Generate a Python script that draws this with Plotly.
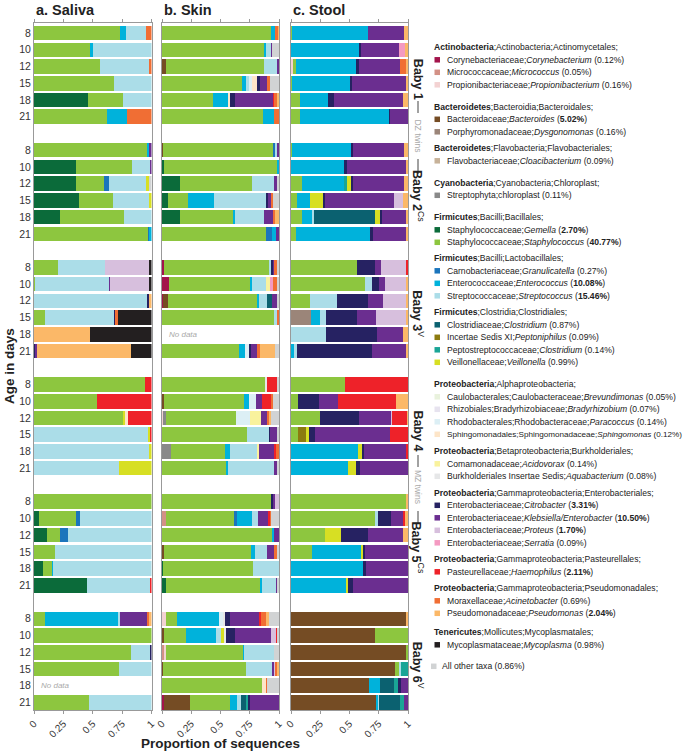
import plotly.graph_objects as go

# ---------------- data ----------------
ages = ["8", "10", "12", "15", "18", "21"]
babies = ["Baby 1", "Baby 2", "Baby 3", "Baby 4", "Baby 5", "Baby 6"]
baby_sup = ["", "Cs", "V", "", "Cs", "V"]
panel_titles = ["a. Saliva", "b. Skin", "c. Stool"]

taxa = ["Cory", "Micro", "Propi", "Bact", "Dysg", "Cloac", "Chlor", "Gem", "Staph",
        "Gran", "Ent", "Strep", "Clos", "Pept", "PeptC", "Veil", "Brev", "Brady",
        "Para", "Sphing", "Acid", "Aqua", "Citro", "Kleb", "Prot", "Serr", "Haem",
        "Acin", "Pseu", "Myco", "Other"]
taxa_colors = ["#A3144B", "#D39186", "#F3D2D2", "#754C24", "#9B8579", "#C7B299", "#898989",
               "#0B6B3A", "#8DC63F", "#1B75BC", "#00B2DB", "#ABDDE8", "#0B6170", "#8C7B10",
               "#1AA596", "#D7DF23", "#E9F2DD", "#E7E3EF", "#DCEFF5", "#FDE5C8", "#F9F29D",
               "#E6E7E8", "#262262", "#6B2E90", "#D7BFDD", "#F49AC1", "#EE2229", "#F06E34",
               "#FBB868", "#231F20", "#D1D3D4"]

legend_headers = [
    "<b>Actinobacteria</b>;Actinobacteria;Actinomycetales;",
    "<b>Bacteroidetes</b>;Bacteroidia;Bacteroidales;",
    "<b>Bacteroidetes</b>;Flavobacteria;Flavobacteriales;",
    "<b>Cyanobacteria</b>;Cyanobacteria;Chloroplast;",
    "<b>Firmicutes</b>;Bacilli;Bacillales;",
    "<b>Firmicutes</b>;Bacilli;Lactobacillales;",
    "<b>Firmicutes</b>;Clostridia;Clostridiales;",
    "<b>Proteobacteria</b>;Alphaproteobacteria;",
    "<b>Proteobacteria</b>;Betaproteobacteria;Burkholderiales;",
    "<b>Proteobacteria</b>;Gammaproteobacteria;Enterobacteriales;",
    "<b>Proteobacteria</b>;Gammaproteobacteria;Pasteurellales;",
    "<b>Proteobacteria</b>;Gammaproteobacteria;Pseudomonadales;",
    "<b>Tenericutes</b>;Mollicutes;Mycoplasmatales;",
]
legend_group_sizes = [3, 2, 1, 1, 2, 3, 4, 4, 2, 4, 1, 2, 1]
taxa_labels = [
    "Corynebacteriaceae;<i>Corynebacterium</i> (0.12%)",
    "Micrococcaceae;<i>Micrococcus</i> (0.05%)",
    "Propionibacteriaceae;<i>Propionibacterium</i> (0.16%)",
    "Bacteroidaceae;<i>Bacteroides</i> (<b>5.02%</b>)",
    "Porphyromonadaceae;<i>Dysgonomonas</i> (0.16%)",
    "Flavobacteriaceae;<i>Cloacibacterium</i> (0.09%)",
    "Streptophyta;chloroplast (0.11%)",
    "Staphylococcaceae;<i>Gemella</i> (<b>2.70%</b>)",
    "Staphylococcaceae;<i>Staphylococcus</i> (<b>40.77%</b>)",
    "Carnobacteriaceae;<i>Granulicatella</i> (0.27%)",
    "Enterococcaceae;<i>Enterococcus</i> (<b>10.08%</b>)",
    "Streptococcaceae;<i>Streptococcus</i> (<b>15.46%</b>)",
    "Clostridiaceae;<i>Clostridium</i> (0.87%)",
    "Incertae Sedis XI;<i>Peptoniphilus</i> (0.09%)",
    "Peptostreptococcaceae;<i>Clostridium</i> (0.14%)",
    "Veillonellaceae;<i>Veillonella</i> (0.99%)",
    "Caulobacterales;Caulobacteraceae;<i>Brevundimonas</i> (0.05%)",
    "Rhizobiales;Bradyrhizobiaceae;<i>Bradyrhizobium</i> (0.07%)",
    "Rhodobacterales;Rhodobacteraceae;<i>Paracoccus</i> (0.14%)",
    "Sphingomonadales;Sphingomonadaceae;<i>Sphingomonas</i> (0.12%)",
    "Comamonadaceae;<i>Acidovorax</i> (0.14%)",
    "Burkholderiales Insertae Sedis;<i>Aquabacterium</i> (0.08%)",
    "Enterobacteriaceae;<i>Citrobacter</i> (<b>3.31%</b>)",
    "Enterobacteriaceae;<i>Klebsiella/Enterobacter</i> (<b>10.50%</b>)",
    "Enterobacteriaceae;<i>Proteus</i> (<b>1.70%</b>)",
    "Enterobacteriaceae;<i>Serratia</i> (0.09%)",
    "Pasteurellaceae;<i>Haemophilus</i> (<b>2.11%</b>)",
    "Moraxellaceae;<i>Acinetobacter</i> (0.69%)",
    "Pseudomonadaceae;<i>Pseudomonas</i> (<b>2.04%</b>)",
    "Mycoplasmataceae;<i>Mycoplasma</i> (0.98%)",
    "All other taxa (0.86%)",
]

# one dict per sample (baby x age), None = no data
saliva = [
    # Baby 1
    {"Staph": .73, "Ent": .05, "Strep": .17, "Acin": .05},
    {"Staph": .485, "Ent": .015, "Strep": .50},
    {"Staph": .56, "Strep": .415, "Acin": .025},
    {"Staph": .68, "Strep": .32},
    {"Gem": .46, "Staph": .30, "Strep": .24},
    {"Staph": .625, "Ent": .17, "Acin": .205},
    # Baby 2
    {"Staph": .96, "Ent": .02, "Kleb": .02},
    {"Gem": .36, "Staph": .47, "Strep": .16, "Kleb": .01},
    {"Gem": .357, "Staph": .24, "Gran": .037, "Strep": .32, "Veil": .025, "Other": .02},
    {"Gem": .385, "Staph": .286, "Strep": .30, "Veil": .025},
    {"Gem": .22, "Staph": .54, "Strep": .235},
    {"Staph": .97, "Gran": .017, "Ent": .013},
    # Baby 3
    {"Staph": .20, "Strep": .40, "Prot": .37, "Myco": .025},
    {"Staph": .01, "Strep": .63, "Kleb": .006, "Prot": .33, "Myco": .02},
    {"Strep": .97, "Citro": .01, "Pseu": .02},
    {"Staph": .09, "Strep": .59, "Citro": .01, "Acin": .02, "Myco": .285},
    {"Pseu": .475, "Myco": .52},
    {"Citro": .01, "Kleb": .015, "Pseu": .785, "Myco": .175},
    # Baby 4
    {"Staph": .945, "Haem": .055},
    {"Staph": .54, "Haem": .46},
    {"Staph": .75, "Veil": .02, "Sphing": .02, "Haem": .20},
    {"Strep": .965, "Veil": .02, "Haem": .01},
    {"Strep": .977, "Veil": .023},
    {"Strep": .725, "Veil": .275},
    # Baby 5
    {"Staph": 1.0},
    {"Gem": .04, "Staph": .32, "Gran": .03, "Strep": .61},
    {"Gem": .11, "Staph": .11, "Gran": .07, "Strep": .71},
    {"Staph": .18, "Strep": .82},
    {"Gem": .08, "Staph": .075, "Ent": .01, "Strep": .835},
    {"Gem": .445, "Strep": .54, "Haem": .01},
    # Baby 6
    {"Staph": .09, "Ent": .63, "Strep": .015, "Kleb": .24, "Acin": .01, "Pseu": .02},
    {"Staph": 1.0},
    {"Staph": .825, "Strep": .17, "Citro": .005},
    {"Staph": .72, "Strep": .28},
    None,
    {"Staph": .465, "Strep": .535},
]

skin = [
    # Baby 1
    {"Staph": .935, "Ent": .03, "Pseu": .005, "Acin": .03},
    {"Staph": .87, "Ent": .023, "Strep": .04, "Kleb": .01, "Other": .057},
    {"Bact": .035, "Staph": .83, "Strep": .12, "Kleb": .01},
    {"Staph": .68, "Ent": .03, "Strep": .03, "Para": .02, "Sphing": .05, "Citro": .015,
     "Kleb": .06, "Acin": .03, "Other": .075},
    {"Staph": .43, "Ent": .13, "Sphing": .02, "Citro": .04, "Kleb": .33, "Haem": .01,
     "Acin": .015, "Pseu": .02},
    {"Staph": .855, "Ent": .10, "Acin": .04},
    # Baby 2
    {"Bact": .01, "Staph": .94, "Gran": .02, "Strep": .015, "Kleb": .015},
    {"Gem": .02, "Staph": .955, "Ent": .02},
    {"Gem": .15, "Staph": .615, "Strep": .19, "Kleb": .03, "Other": .01},
    {"Gem": .05, "Staph": .175, "Ent": .215, "Strep": .45, "Citro": .017, "Kleb": .02,
     "Acin": .02, "Other": .05},
    {"Gem": .15, "Staph": .455, "Ent": .02, "Strep": .24, "Kleb": .08, "Acin": .02, "Pseu": .03},
    {"Staph": .895, "Gran": .05, "Ent": .03, "Kleb": .03},
    # Baby 3
    {"Cory": .015, "Staph": .905, "Strep": .015, "Citro": .012, "Kleb": .015, "Acin": .015,
     "Other": .02},
    {"Cory": .06, "Staph": .695, "Ent": .01, "Strep": .12, "Acid": .04, "Serr": .015,
     "Acin": .035, "Other": .02},
    {"Cory": .01, "Bact": .04, "Staph": .77, "Ent": .01, "Strep": .07, "Clos": .04,
     "Kleb": .04, "Other": .02},
    {"Staph": .955, "Strep": .03, "Acin": .015},
    None,
    {"Staph": .655, "Ent": .05, "Para": .035, "Citro": .02, "Kleb": .045, "Acin": .025,
     "Pseu": .13, "Other": .035},
    # Baby 4
    {"Staph": .88, "Aqua": .01, "Haem": .09, "Other": .015},
    {"Bact": .02, "Staph": .68, "Ent": .04, "Para": .06, "Kleb": .055, "Haem": .08,
     "Acin": .015, "Other": .05},
    {"Propi": .015, "Staph": .6, "Chlor": .015, "Para": .12, "Acid": .1, "Kleb": .045,
     "Acin": .02, "Pseu": .02, "Other": .065},
    {"Staph": .725, "Strep": .19, "Citro": .01, "Kleb": .055, "Other": .02},
    {"Chlor": .075, "Staph": .46, "Ent": .04, "Strep": .235, "Acid": .015, "Kleb": .125,
     "Haem": .02, "Acin": .025},
    {"Staph": .55, "Ent": .01, "Strep": .40, "Kleb": .03, "Other": .01},
    # Baby 5
    {"Staph": .937, "Citro": .012, "Kleb": .02, "Prot": .03},
    {"Micro": .03, "Staph": .585, "Gran": .02, "Ent": .13, "Strep": .05, "Kleb": .09,
     "Haem": .015, "Acin": .01, "Other": .065},
    {"Staph": .935, "Ent": .02, "Kleb": .04},
    {"Bact": .02, "Staph": .735, "Ent": .04, "Strep": .10, "Kleb": .06, "Acin": .03,
     "Other": .01},
    {"Gem": .01, "Staph": .765, "Strep": .225},
    {"Gem": .03, "Staph": .81, "Ent": .01, "Strep": .12, "Kleb": .015, "Other": .01},
    # Baby 6
    {"Propi": .03, "Staph": .095, "Ent": .36, "Para": .04, "Aqua": .015, "Citro": .04,
     "Kleb": .255, "Haem": .01, "Acin": .04, "Pseu": .03, "Other": .085},
    {"Bact": .015, "Staph": .185, "Ent": .26, "Strep": .045, "Veil": .02, "Aqua": .02,
     "Citro": .075, "Kleb": .31, "Prot": .045, "Haem": .01, "Other": .01},
    {"Micro": .015, "Propi": .02, "Staph": .66, "Ent": .01, "Strep": .255, "Other": .04},
    {"Bact": .01, "Staph": .705, "Strep": .225, "Kleb": .017, "Prot": .01, "Acin": .01,
     "Pseu": .02},
    {"Staph": .85, "Sphing": .035, "Acin": .01, "Other": .10},
    {"Cory": .015, "Bact": .225, "Staph": .34, "Ent": .057, "Strep": .035, "Clos": .05,
     "PeptC": .01, "Citro": .017, "Kleb": .245},
]

stool = [
    # Baby 1
    {"Staph": .01, "Ent": .65, "Kleb": .31, "Pseu": .03},
    {"Ent": .575, "Citro": .02, "Kleb": .32, "Serr": .05, "Pseu": .025},
    {"Propi": .025, "Staph": .017, "Ent": .52, "Citro": .015, "Kleb": .355, "Acin": .045,
     "Pseu": .02},
    {"Staph": .01, "Ent": .495, "Citro": .01, "Kleb": .46, "Pseu": .02},
    {"Staph": .075, "Ent": .245, "Citro": .05, "Kleb": .585, "Pseu": .045},
    {"Staph": .075, "Ent": .76, "Citro": .01, "Kleb": .15},
    # Baby 2
    {"Staph": .01, "Ent": .505, "Citro": .017, "Kleb": .43, "Pseu": .037},
    {"Ent": .46, "Citro": .017, "Kleb": .505, "Pseu": .018},
    {"Staph": .095, "Ent": .36, "PeptC": .015, "Veil": .045, "Citro": .01, "Kleb": .435,
     "Pseu": .03},
    {"Staph": .05, "Ent": .11, "Veil": .11, "Citro": .017, "Kleb": .59, "Prot": .075,
     "Pseu": .04},
    {"Staph": .095, "Ent": .09, "Strep": .01, "Clos": .51, "Veil": .05, "Citro": .01,
     "Kleb": .21, "Pseu": .01},
    {"Staph": .043, "Ent": .64, "Citro": .017, "Kleb": .28, "Pseu": .02},
    # Baby 3
    {"Staph": .56, "Citro": .155, "Kleb": .05, "Prot": .22, "Haem": .015},
    {"Staph": .63, "Strep": .06, "Citro": .065, "Kleb": .045, "Prot": .19, "Pseu": .01},
    {"Staph": .16, "Strep": .235, "Citro": .265, "Kleb": .13, "Prot": .20, "Pseu": .01},
    {"Dysg": .17, "Ent": .075, "Strep": .05, "Citro": .27, "Kleb": .165, "Prot": .255,
     "Pseu": .015},
    {"Strep": .30, "Citro": .435, "Kleb": .225, "Pseu": .04},
    {"Ent": .03, "Strep": .017, "Citro": .64, "Kleb": .29, "Pseu": .02},
    # Baby 4
    {"Staph": .46, "Haem": .54},
    {"Staph": .057, "Citro": .18, "Kleb": .165, "Haem": .49, "Pseu": .105},
    {"Staph": .245, "Citro": .34, "Kleb": .27, "Prot": .01, "Haem": .13, "Pseu": .005},
    {"Staph": .06, "Pept": .07, "Veil": .02, "Citro": .05, "Kleb": .64, "Haem": .15},
    {"Ent": .57, "Veil": .035, "Citro": .02, "Kleb": .36, "Haem": .01},
    {"Ent": .485, "Veil": .07, "Citro": .035, "Kleb": .41},
    # Baby 5
    {"Staph": .985, "Pseu": .01},
    {"Staph": .72, "Strep": .02, "Citro": .11, "Kleb": .11, "Haem": .012, "Pseu": .025},
    {"Staph": .29, "Veil": .14, "Citro": .225, "Kleb": .30, "Pseu": .045},
    {"Staph": .18, "Ent": .42, "Veil": .02, "Citro": .015, "Kleb": .365},
    {"Ent": .615, "Citro": .025, "Kleb": .36},
    {"Ent": .47, "Veil": .022, "Citro": .04, "Kleb": .47},
    # Baby 6
    {"Bact": .99, "Pseu": .01},
    {"Bact": .715, "Staph": .285},
    {"Bact": .975, "Staph": .02},
    {"Bact": .885, "Staph": .04, "Strep": .015, "PeptC": .06},
    {"Bact": .66, "Ent": .10, "Clos": .115, "PeptC": .035, "Citro": .025, "Kleb": .06},
    {"Bact": .725, "Ent": .02, "Strep": .01, "Clos": .18, "PeptC": .03, "Kleb": .035},
]

# ---------------- layout helpers ----------------
W, H = 685, 756
FONT = "Liberation Sans, Arial, sans-serif"


def px(x):
    return x / W


def py(y):
    return 1 - y / H


panel_px = [(34, 151.5), (162, 279), (291, 408)]
plot_top, plot_bottom = 23, 710
slot_of = [b * 7 + i for b in range(len(babies)) for i in range(len(ages))]

fig = go.Figure()
panels_data = [saliva, skin, stool]
for p, rows in enumerate(panels_data):
    xa = "x" if p == 0 else f"x{p + 1}"
    ya = "y" if p == 0 else f"y{p + 1}"
    for t, col in zip(taxa, taxa_colors):
        xs, ys = [], []
        for r, row in enumerate(rows):
            if row is None or t not in row:
                continue
            tot = sum(row.values())
            xs.append(row[t] / tot)
            ys.append(slot_of[r])
        if not xs:
            continue
        fig.add_trace(go.Bar(x=xs, y=ys, orientation="h", xaxis=xa, yaxis=ya,
                             marker=dict(color=col, line=dict(width=0)),
                             width=0.87, showlegend=False, hoverinfo="skip"))

layout = dict(
    width=W, height=H, margin=dict(l=0, r=0, t=0, b=0),
    paper_bgcolor="white", plot_bgcolor="white", barmode="stack", bargap=0,
    font=dict(family=FONT, size=10, color="#333"), showlegend=False,
)
yrange = [40.45, -0.6]
for p, (x0, x1) in enumerate(panel_px):
    sfx = "" if p == 0 else str(p + 1)
    layout["xaxis" + sfx] = dict(
        domain=[px(x0), px(x1)], range=[0, 1], anchor="y" + sfx,
        tickvals=[0, 0.25, 0.5, 0.75, 1], ticktext=["0", "0.25", "0.5", "0.75", "1"],
        tickangle=-45, ticks="outside", ticklen=3, tickcolor="#999",
        showline=True, linecolor="#999", linewidth=1, mirror="ticks",
        showgrid=False, zeroline=False, tickfont=dict(size=10, color="#333"),
        automargin=False, fixedrange=True)
    layout["yaxis" + sfx] = dict(
        domain=[py(plot_bottom), py(plot_top)], range=yrange, anchor="x" + sfx,
        tickvals=slot_of, ticktext=ages * len(babies), showticklabels=(p == 0),
        ticks="", showline=True, linecolor="#999", linewidth=1, mirror=True,
        showgrid=False, zeroline=False, tickfont=dict(size=10.5, color="#333"),
        automargin=False, fixedrange=True)
fig.update_layout(**layout)

ann = []
shapes = []
# panel titles
for p, (x0, x1) in enumerate(panel_px):
    ann.append(dict(x=px(x0), y=py(10), xref="paper", yref="paper", text="<b>%s</b>" % panel_titles[p],
                    showarrow=False, xanchor="left", yanchor="middle",
                    font=dict(size=14.5, color="#222")))
# axis titles
ann.append(dict(x=px(220), y=py(743), xref="paper", yref="paper", text="<b>Proportion of sequences</b>",
                showarrow=False, xanchor="center", yanchor="middle", font=dict(size=13.5, color="#222")))
ann.append(dict(x=px(9), y=py(366), xref="paper", yref="paper", text="<b>Age in days</b>",
                showarrow=False, xanchor="center", yanchor="middle", textangle=-90,
                font=dict(size=13.5, color="#222")))
# no data labels
ann.append(dict(x=0.04, y=slot_of[2 * 6 + 4], xref="x2", yref="y2", text="<i>No data</i>",
                showarrow=False, xanchor="left", yanchor="middle", font=dict(size=8, color="#aaa")))
ann.append(dict(x=0.04, y=slot_of[5 * 6 + 4], xref="x", yref="y", text="<i>No data</i>",
                showarrow=False, xanchor="left", yanchor="middle", font=dict(size=8, color="#aaa")))

# baby labels
lab_x = 418
for b, name in enumerate(babies):
    center_slot = b * 7 + 2.5
    yy = 33 + center_slot * 16.74 + 4
    txt = "<b>%s</b>" % name
    if baby_sup[b]:
        txt += "<sup>%s</sup>" % baby_sup[b]
    ann.append(dict(x=px(lab_x), y=py(yy), xref="paper", yref="paper", text=txt, showarrow=False,
                    xanchor="center", yanchor="middle", textangle=90, font=dict(size=12.5, color="#222")))
for gap_slot, twin, lines in [(6, "DZ twins", [(101, 113), (159, 174)]),
                              (27, "MZ twins", [(455, 467), (511, 524)])]:
    yy = 33 + gap_slot * 16.74 + 2
    ann.append(dict(x=px(lab_x), y=py(yy), xref="paper", yref="paper", text=twin, showarrow=False,
                    xanchor="center", yanchor="middle", textangle=90, font=dict(size=8.5, color="#aaa")))
    for (a, b2) in lines:
        shapes.append(dict(type="line", xref="paper", yref="paper", x0=px(lab_x), x1=px(lab_x),
                           y0=py(a), y1=py(b2), line=dict(color="#444", width=1)))

# legend (manual)
gaps = [0, 22, 16.5, 22, 22, 16, 16.5, 22, 17, 16.5, 16.5, 16.5, 19]
step = 12.5
y = 47.3
ti = 0
LF = 8.6
LF_LONG = 8.1
long_labels = {"Sphing"}
for g, header in enumerate(legend_headers):
    if g > 0:
        y += gaps[g]
    ann.append(dict(x=px(432), y=py(y), xref="paper", yref="paper", text=header, showarrow=False,
                    xanchor="left", yanchor="middle", font=dict(size=LF, color="#222")))
    for k in range(legend_group_sizes[g]):
        y += step
        fs = LF_LONG if taxa[ti] in long_labels else LF
        shapes.append(dict(type="rect", xref="paper", yref="paper", x0=px(434.5), x1=px(440),
                           y0=py(y - 2.75), y1=py(y + 2.75), fillcolor=taxa_colors[ti],
                           line=dict(width=0)))
        ann.append(dict(x=px(444.5), y=py(y), xref="paper", yref="paper", text=taxa_labels[ti],
                        showarrow=False, xanchor="left", yanchor="middle",
                        font=dict(size=fs, color="#222")))
        ti += 1
y += 21.5
shapes.append(dict(type="rect", xref="paper", yref="paper", x0=px(431), x1=px(436.5),
                   y0=py(y - 2.75), y1=py(y + 2.75), fillcolor=taxa_colors[ti], line=dict(width=0)))
ann.append(dict(x=px(440), y=py(y), xref="paper", yref="paper", text=taxa_labels[ti],
                showarrow=False, xanchor="left", yanchor="middle", font=dict(size=LF, color="#222")))

fig.update_layout(annotations=ann, shapes=shapes)
fig.write_html("out.html", config={"displayModeBar": False},
               post_script="document.body.style.margin='0';")
